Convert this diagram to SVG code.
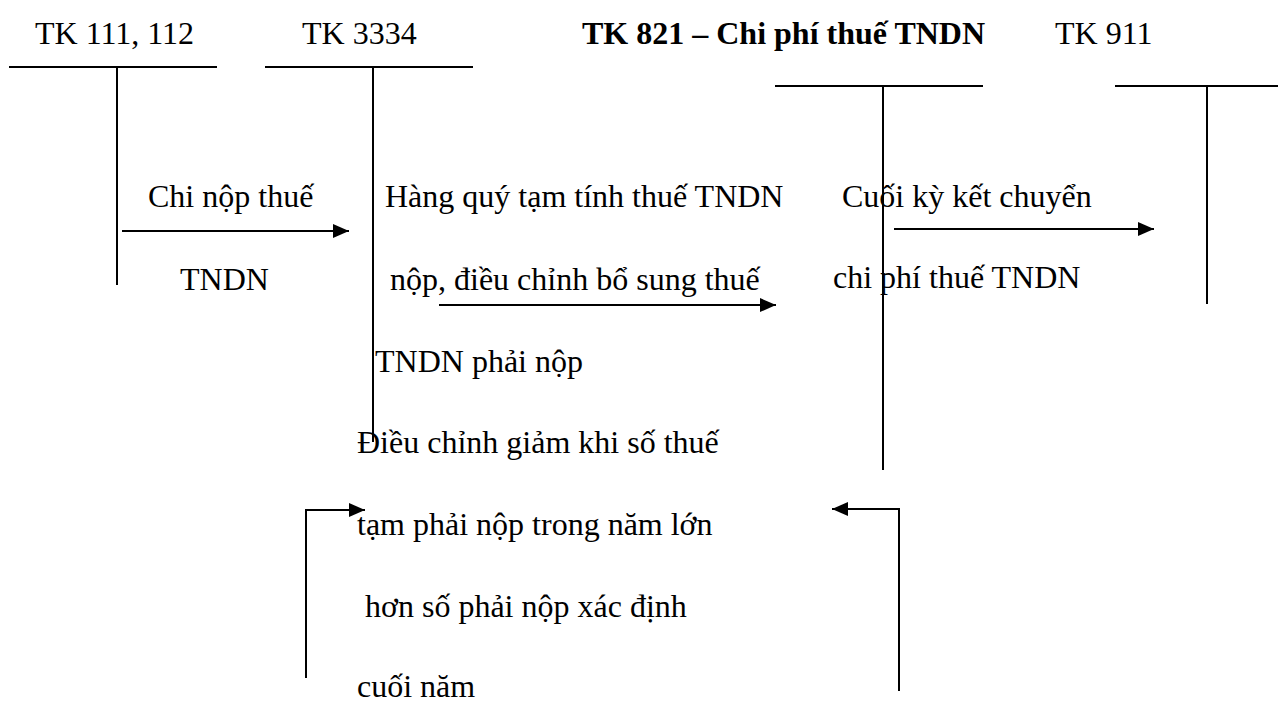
<svg xmlns="http://www.w3.org/2000/svg" width="1278" height="707" viewBox="0 0 1278 707">
  <style>
    text { font-family: "Liberation Serif", "Times New Roman", serif; font-size: 32px; fill: #000; }
    .title-bold { font-weight: bold; }
    .t-top { stroke: #000; stroke-width: 2; fill: none; }
    .t-stem { stroke: #000; stroke-width: 2; fill: none; }
    .flow { stroke: #000; stroke-width: 2; fill: none; marker-end: url(#arrow); }
  </style>
  <defs>
    <marker id="arrow" markerUnits="userSpaceOnUse" markerWidth="16" markerHeight="14" refX="16" refY="7" orient="auto">
      <path d="M0,0 L16,7 L0,14 z" fill="#000"/>
    </marker>
  </defs>

  <rect width="1278" height="707" fill="#fff"/>

  <!-- T-account: TK 111, 112 -->
  <g id="tk111-112">
    <text x="35" y="44">TK 111, 112</text>
    <line class="t-top" x1="9" y1="67" x2="217" y2="67"/>
    <line class="t-stem" x1="117" y1="67" x2="117" y2="285"/>
  </g>

  <!-- T-account: TK 3334 -->
  <g id="tk3334">
    <text x="302" y="44">TK 3334</text>
    <line class="t-top" x1="265" y1="67" x2="473" y2="67"/>
    <line class="t-stem" x1="373" y1="67" x2="373" y2="442"/>
  </g>

  <!-- T-account: TK 821 -->
  <g id="tk821">
    <text class="title-bold" x="582" y="44">TK 821 – Chi phí thuế TNDN</text>
    <line class="t-top" x1="775" y1="86" x2="983" y2="86"/>
    <line class="t-stem" x1="883" y1="86" x2="883" y2="470"/>
  </g>

  <!-- T-account: TK 911 -->
  <g id="tk911">
    <text x="1055" y="44">TK 911</text>
    <line class="t-top" x1="1115" y1="86" x2="1278" y2="86"/>
    <line class="t-stem" x1="1207" y1="86" x2="1207" y2="304"/>
  </g>

  <!-- Posting arrows -->
  <g id="connectors">
    <path class="flow" d="M122,231 H349"/>
    <path class="flow" d="M439,305 H776"/>
    <path class="flow" d="M894,229 H1154"/>
    <path class="flow" d="M306,678 V510 H365"/>
    <path class="flow" d="M899,691 V509 H832"/>
  </g>

  <!-- Posting labels -->
  <g id="labels">
    <text x="148" y="207">Chi nộp thuế</text>
    <text x="180" y="290">TNDN</text>

    <text x="385" y="207">Hàng quý tạm tính thuế TNDN</text>
    <text x="390" y="290">nộp, điều chỉnh bổ sung thuế</text>
    <text x="375" y="372">TNDN phải nộp</text>

    <text x="357" y="453">Điều chỉnh giảm khi số thuế</text>
    <text x="357" y="535">tạm phải nộp trong năm lớn</text>
    <text x="365" y="617">hơn số phải nộp xác định</text>
    <text x="357" y="697">cuối năm</text>

    <text x="842" y="207">Cuối kỳ kết chuyển</text>
    <text x="833" y="288">chi phí thuế TNDN</text>
  </g>
</svg>
